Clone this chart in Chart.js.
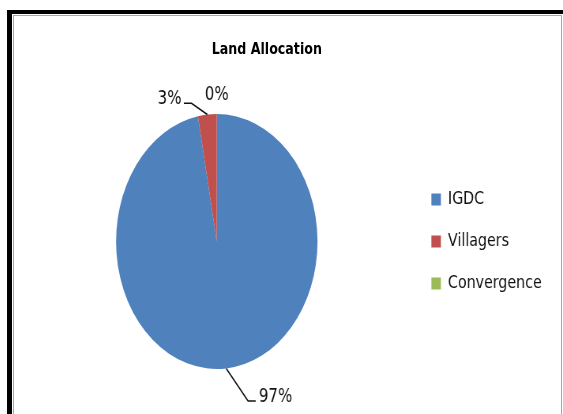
<!DOCTYPE html>
<html>
<head>
<meta charset="utf-8">
<title>Land Allocation</title>
<script src="https://cdn.jsdelivr.net/npm/chart.js@4.4.0/dist/chart.umd.min.js"></script>
<style>
  html, body { margin: 0; padding: 0; background: #fff; overflow: hidden; }
  body { width: 563px; height: 414px; position: relative; }
  /* thick black frame on top/left, thin grey one inside it */
  #frame { position: absolute; left: 7px; top: 10px; width: 556px; height: 410px;
           border-left: 5px solid #000; border-top: 4px solid #000; box-sizing: border-box; }
  #inner { position: absolute; left: 13px; top: 15px; width: 549px; height: 410px;
           border: 1px solid #a6a6a6; border-bottom: none; box-sizing: border-box; }
  /* the original picture is squeezed sideways, so the pie is an upright oval */
  #wrap { position: absolute; left: 14px; top: 16px; width: 692px; height: 398px;
          transform: scaleX(0.79); transform-origin: 0 0; }
  #wrap canvas { display: block; }
  #chartTitle { position: absolute; left: 0; top: 23px; width: 640px; line-height: 20px;
                text-align: center; font: bold 16px "DejaVu Sans"; color: #000; }
</style>
</head>
<body>
<div id="frame"></div>
<div id="inner"></div>
<div id="wrap">
  <canvas id="landChart" width="692" height="398"></canvas>
  <div id="chartTitle">Land Allocation</div>
</div>

<script>
const categories = ["IGDC", "Villagers", "Convergence"];
const shares = [97, 3, 0];
const sliceColors = ["#4F81BD", "#C0504D", "#9BBB59"];

// percent labels with little leader lines, like the Excel chart
const leaderLabels = {
  id: "leaderLabels",
  afterDatasetsDraw(chart, args, opts) {
    const ctx = chart.ctx;
    const meta = chart.getDatasetMeta(0);
    const total = shares.reduce((a, b) => a + b, 0);
    ctx.save();
    ctx.font = opts.font;
    ctx.fillStyle = opts.color;
    ctx.strokeStyle = opts.color;
    ctx.lineWidth = opts.lineWidth;
    ctx.textBaseline = "alphabetic";
    meta.data.forEach((arc, i) => {
      const p = arc.getProps(["x", "y", "startAngle", "endAngle", "outerRadius"], true);
      const mid = (p.startAngle + p.endAngle) / 2;
      const ex = p.x + Math.cos(mid) * p.outerRadius;
      const ey = p.y + Math.sin(mid) * p.outerRadius;
      const pl = opts.place[i];
      const bx = ex + pl.dx;
      const by = ey + pl.dy;
      const endX = bx + pl.run;
      if (pl.line) {
        ctx.beginPath();
        ctx.moveTo(ex, ey);
        ctx.lineTo(bx, by);
        ctx.lineTo(endX, by);
        ctx.stroke();
      }
      const text = Math.round(shares[i] / total * 100) + "%";
      let tx = endX;
      if (pl.run > 0) { ctx.textAlign = "left"; tx = endX + pl.gap; }
      else if (pl.run < 0) { ctx.textAlign = "right"; tx = endX - pl.gap; }
      else ctx.textAlign = "center";
      ctx.fillText(text, tx, by + 1);
    });
    ctx.restore();
  }
};

new Chart(document.getElementById("landChart"), {
  type: "pie",
  data: {
    labels: categories,
    datasets: [{
      data: shares,
      backgroundColor: sliceColors,
      borderWidth: 0
    }]
  },
  options: {
    responsive: false,
    animation: false,
    layout: { padding: { left: 9, right: 14, top: 98, bottom: 45 } },
    plugins: {
      title: { display: false },
      legend: {
        position: "right",
        fullSize: false,
        align: "center",
        labels: {
          boxWidth: 12,
          boxHeight: 12,
          padding: 24,
          color: "#111",
          font: { family: "DejaVu Sans", size: 18 }
        }
      },
      tooltip: { enabled: false },
      leaderLabels: {
        font: "19px 'DejaVu Sans'",
        color: "#111",
        lineWidth: 1.6,
        place: [
          { dx: 27.6, dy: 32.6, run: 9.7, gap: 4, line: true },
          { dx: -20, dy: -11.3, run: -9.7, gap: 3, line: true },
          { dx: 0, dy: -15, run: 0, gap: 0, line: false }
        ]
      }
    }
  },
  plugins: [leaderLabels]
});
</script>
</body>
</html>
